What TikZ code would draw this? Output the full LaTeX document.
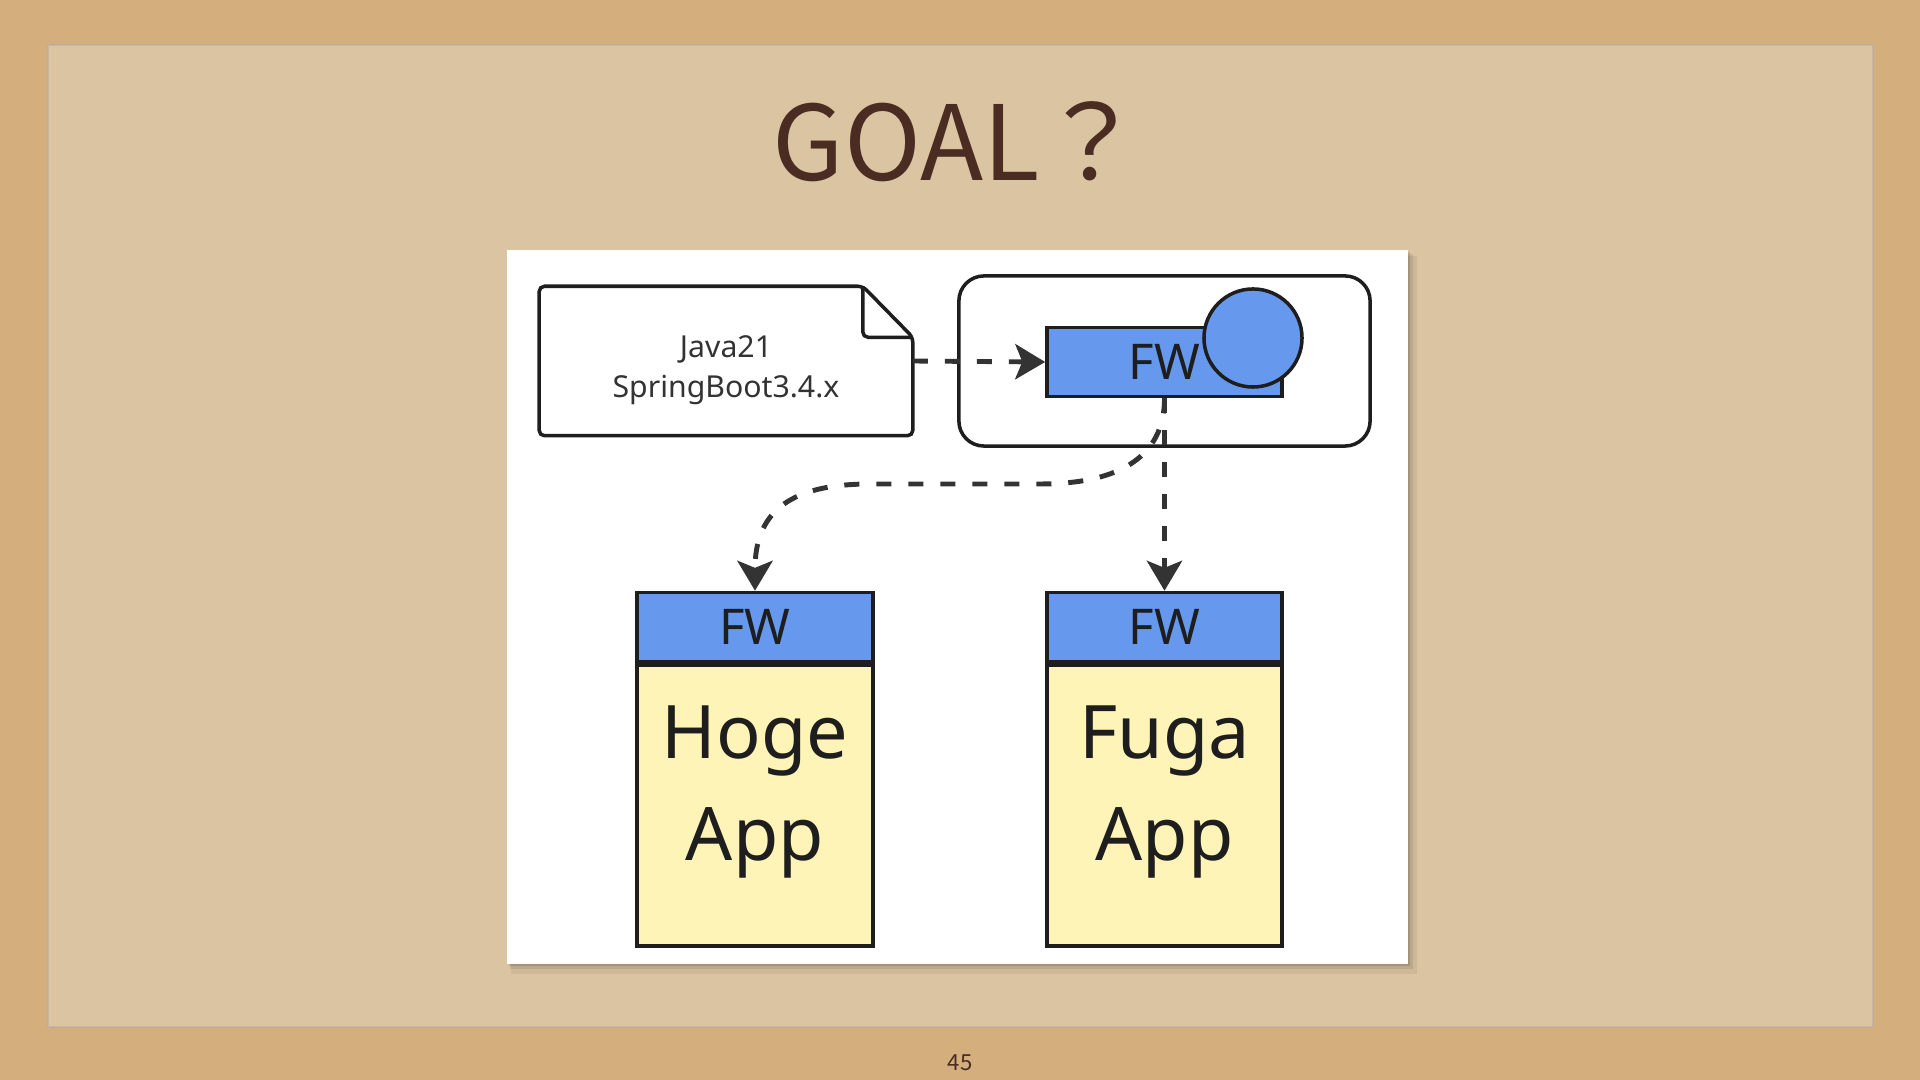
\documentclass[tikz,border=0pt]{standalone}
\usepackage{fontspec}
\setmainfont{Noto Sans}
\newfontfamily\cjk{Noto Sans CJK JP}
\usetikzlibrary{arrows.meta,positioning,calc}

\definecolor{cork}{HTML}{D4AE7C}
\definecolor{paper}{HTML}{DAC4A1}
\definecolor{ink}{HTML}{4A2C22}
\definecolor{fwblue}{HTML}{6699EE}
\definecolor{appyellow}{HTML}{FFF4B8}
\definecolor{edge}{HTML}{1E1E1E}
\definecolor{flowgray}{HTML}{333333}

\begin{document}
\begin{tikzpicture}[x=0.01cm, y=-0.01cm,
    box/.style={draw=edge, line width=1pt, inner sep=0pt},
    fwbox/.style={box, fill=fwblue, text=edge, font=\fontsize{14}{16}\selectfont, minimum width=2.35cm, minimum height=0.69cm},
    appbox/.style={box, fill=appyellow, text=edge, font=\fontsize{21}{29}\selectfont, align=center, minimum width=2.35cm, minimum height=2.81cm},
    flow/.style={draw=flowgray, line width=1.4pt, dash pattern=on 4.3pt off 4.8pt, -{Stealth[length=8.5pt,width=10pt,inset=2pt,fill=flowgray]}},
]
\useasboundingbox (0,0) rectangle (1920,1080);

% Slide background
\fill[cork] (0,0) rectangle (1920,1080);
\fill[paper] (48,45) rectangle (1873,1027);
\draw[ink!40, opacity=0.5, line width=0.4pt] (48,45) rectangle (1873,1027);

% Title and page number
\node[font=\cjk\fontsize{29.5}{35}\selectfont, text=ink, anchor=base] (title) at (958,181) {GOAL？};
\node[font=\cjk\fontsize{6.3}{8}\selectfont, text=ink, anchor=base] (pagenum) at (960,1071) {45};

% White panel with shadow
\fill[black, opacity=0.06] (511,256) rectangle (1417,974);
\fill[black, opacity=0.08] (510,254) rectangle (1413,969);
\fill[black, opacity=0.12] (509,252) rectangle (1410,966);
\fill[white] (507,250) rectangle (1408,964);

% Note
\node[inner sep=0pt, minimum width=3.72cm, minimum height=1.48cm, align=center, text=flowgray,
      font=\fontsize{8.6}{11.4}\selectfont] (note) at (726,361) {\rule{0pt}{11.2pt}Java21\\SpringBoot3.4.x};
\draw[draw=edge, line width=1pt, rounded corners=1.5pt]
    (note.north west) -- ([xshift=-0.5cm]note.north east) -- ([yshift=-0.51cm]note.north east)
    -- (note.south east) -- (note.south west) -- cycle;
\draw[draw=edge, line width=1pt, rounded corners=1.5pt]
    ([xshift=-0.5cm]note.north east) -- ([xshift=-0.5cm,yshift=-0.51cm]note.north east) -- ([yshift=-0.51cm]note.north east);

% Framework group
\node[box, rounded corners=0.25cm, minimum width=4.11cm, minimum height=1.70cm] (fwgroup) at (1164.5,361) {};
\node[fwbox] (fwtop) at (1164.5,362) {FW};
\node[box, circle, fill=fwblue, minimum size=0.98cm] (fwport) at (1253,338) {};

% Apps
\node[fwbox, minimum width=2.36cm] (hogefw) at (755,627) {FW};
\node[appbox, minimum width=2.36cm, below=0pt of hogefw] (hoge) {Hoge\\App\rule[-13pt]{0pt}{1pt}};
\node[fwbox] (fugafw) at (1164.5,627) {FW};
\node[appbox, below=0pt of fugafw] (fuga) {Fuga\\App\rule[-13pt]{0pt}{1pt}};

% Connectors
\draw[flow] (note.east) -- (fwtop.west);
\draw[flow] (fwtop.south) -- (fugafw.north);
\draw[flow] (fwtop.south) .. controls +(0,70) and +(60,0) .. (1040,484) -- (870,484)
    .. controls +(-85,0) and +(0,-75) .. (hogefw.north);
\end{tikzpicture}
\end{document}
